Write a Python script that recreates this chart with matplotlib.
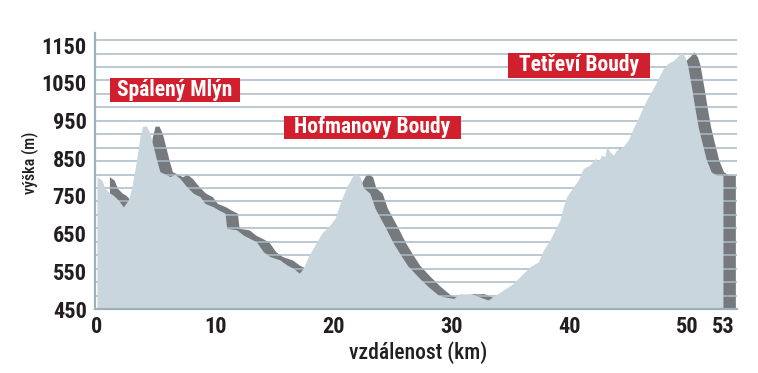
import numpy as np
import matplotlib
matplotlib.use('Agg')
import matplotlib.pyplot as plt
from matplotlib.patches import Rectangle

# ---- data ----
dist_km = [0.00, 0.40, 0.68, 1.10, 1.38, 1.80, 2.23, 2.65, 2.93, 3.35, 3.64, 3.87, 4.20,
           4.49, 4.77, 5.05, 5.33, 5.76, 6.18, 6.60, 7.03, 7.60, 8.15, 8.72, 9.14, 9.85,
           10.27, 10.84, 10.98, 11.83, 12.39, 12.95, 13.50, 14.08, 14.65, 15.50, 16.06,
           16.62, 17.13, 17.47, 17.89, 18.46, 19.03, 19.59, 20.15, 20.58, 21.14, 21.70,
           21.98, 22.30, 22.55, 23.10, 23.54, 24.39, 25.10, 25.80, 26.30, 27.20, 28.05,
           28.90, 29.30, 30.20, 30.70, 31.20, 31.70, 32.40, 33.10, 33.56, 34.40, 35.25,
           36.10, 36.66, 37.37, 37.80, 38.36, 38.78, 39.20, 39.48, 39.77, 40.33, 40.75,
           41.18, 41.74, 42.17, 42.45, 42.73, 43.00, 43.16, 43.44, 43.72, 44.00, 44.56,
           44.98, 45.40, 45.83, 46.26, 46.68, 47.10, 47.53, 47.95, 48.37, 48.80, 49.20,
           49.50, 49.80, 50.00, 50.33, 50.60, 50.90, 51.17, 51.60, 52.00, 52.44, 53.00]
elev_m = [801, 792, 770, 757, 752, 739, 721, 739, 770, 845, 907, 935, 935,
          915, 880, 845, 814, 808, 801, 807, 796, 774, 757, 748, 730, 721,
          713, 704, 664, 660, 646, 637, 628, 602, 589, 580, 567,
          558, 545, 558, 589, 620, 651, 668, 690, 730, 774, 805,
          808, 800, 772, 757, 717, 668, 624, 589, 565, 535, 509,
          487, 483, 478, 491, 490, 491, 482, 474, 483, 500, 518,
          545, 562, 575, 606, 633, 660, 686, 721, 748, 774, 792,
          823, 832, 850, 841, 858, 854, 881, 867, 858, 872, 881,
          898, 929, 956, 987, 1013, 1035, 1062, 1088, 1102, 1109, 1121,
          1132, 1118, 1098, 1040, 987, 934, 898, 845, 814, 805, 805]
x_tick_values = [0, 10, 20, 30, 40, 50, 53]
y_tick_values = [450, 550, 650, 750, 850, 950, 1050, 1150]
place_names = ["Spálený Mlýn", "Hofmanovy Boudy", "Tetřeví Boudy"]
x_label = "vzdálenost (km)"
y_label = "výška (m)"

# ---- style ----
FONT = ['Roboto Condensed', 'Archivo Narrow', 'Asap Condensed', 'DejaVu Sans']
plt.rcParams['font.family'] = FONT
LIGHT = '#cad6dd'
DARK = '#76797d'
GRID = '#a9bbc6'
SPINE = '#9db1bc'
RED = '#d21f2d'
TXT = '#231f20'

W, H = 758, 373
fig = plt.figure(figsize=(W / 100, H / 100), dpi=100)
ax = fig.add_axes([95 / W, 1 - 309 / H, (737 - 95) / W, (309 - 33) / H])
ax.set_xlim(-0.17, 54.19)
ax.set_ylim(450, 1182)

x = np.array(dist_km)
y = np.array(elev_m)
shift = 1.05
ax.fill_between(x + shift, y, 450, color=DARK, lw=0, zorder=1)
for g in np.linspace(450, 1163, 21)[1:]:
    ax.axhline(g, color=GRID, lw=1.1, zorder=2)
ax.fill_between(x, y, 450, color=LIGHT, lw=0, zorder=3)

for s in ['top', 'right']:
    ax.spines[s].set_visible(False)
for s in ['left', 'bottom']:
    ax.spines[s].set_color(SPINE)
    ax.spines[s].set_linewidth(1.6)
    ax.spines[s].set_zorder(4)

ax.set_xticks(x_tick_values)
ax.set_xticklabels([str(v) for v in x_tick_values], fontsize=16, fontweight=900, color=TXT)
ax.set_yticks(y_tick_values)
ax.set_yticklabels([str(v) for v in y_tick_values], fontsize=16, fontweight=900, color=TXT)
ax.tick_params(axis='both', length=0)
ax.tick_params(axis='x', pad=5)
ax.tick_params(axis='y', pad=6)

fig.text(418 / W, 1 - 353 / H, x_label, ha='center', va='center', fontsize=15.5,
         fontweight=500, color=TXT)
fig.text(30 / W, 1 - 163 / H, y_label, ha='center', va='center', rotation=90,
         fontsize=11.5, fontweight=500, color=TXT)

# place-name boxes (pixel boxes: x0, y0_top, x1, y1_bottom)
boxes = [(110, 78, 240, 102), (284, 116, 461, 139), (508, 53, 650, 78)]
for name, (x0, y0, x1, y1) in zip(place_names, boxes):
    fig.add_artist(Rectangle((x0 / W, 1 - y1 / H), (x1 - x0) / W, (y1 - y0) / H,
                             transform=fig.transFigure, facecolor=RED, edgecolor='none', zorder=5))
    fig.text((x0 + x1) / 2 / W, 1 - (y0 + y1) / 2 / H, name, ha='center', va='center',
             fontsize=15.5, fontweight='bold', color='white', zorder=6)

fig.savefig('out.png', dpi=100)
